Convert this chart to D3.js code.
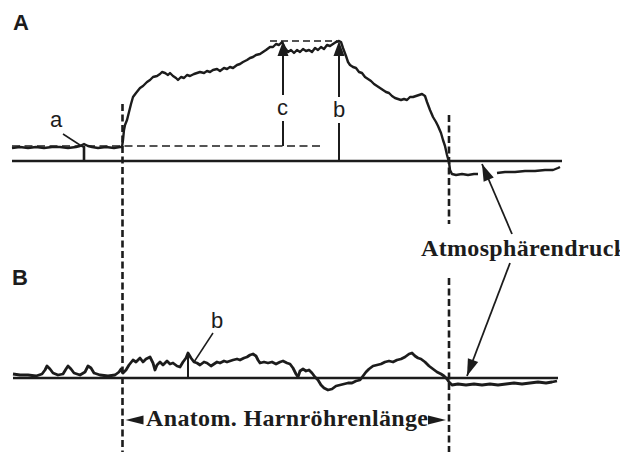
<!DOCTYPE html>
<html>
<head>
<meta charset="utf-8">
<script src="https://cdn.jsdelivr.net/npm/d3@7"></script>
<style>
  html, body { margin: 0; padding: 0; background: #fff; }
  svg { display: block; }
</style>
</head>
<body>
<svg id="chart" width="620" height="452"></svg>
<script>
// Druckprofil A: [Position, Druck] (Druck relativ zum Atmosphärendruck)
const traceA = [
  [0,13],[0.8,14],[1.6,13],[2.4,14],[3.2,13],[4.0,14],[4.8,14],[5.6,13],[6.4,14],[6.8,15],[7.2,17],[7.6,15],
  [8.0,14],[8.6,13],[9.4,14],[10.2,13],[10.8,14],[11.0,14],
  [11.1,21],[11.2,31],[11.3,36],[11.5,41],[11.7,49],[11.9,57],[12.1,64],[12.4,68],[12.8,73],[13.1,75],
  [13.5,79],[13.8,81],[14.1,84],[14.5,85],[14.8,87],[15.0,89],[15.3,88],[15.6,86],[15.8,88],[16.1,85],
  [16.4,83],[16.6,81],[16.9,84],[17.2,83],[17.5,86],[17.8,85],[18.2,87],[18.5,88],[18.8,89],[19.2,88],
  [19.5,90],[19.8,89],[20.1,91],[20.5,92],[20.8,90],[21.2,93],[21.5,92],[21.8,94],[22.1,93],[22.5,96],
  [22.8,97],[23.1,99],[23.5,101],[23.8,103],[24.1,104],[24.4,106],[24.8,107],[25.1,109],[25.4,111],
  [25.8,114],[26.1,114],[26.4,117],[26.7,116],[27.0,119],[27.3,113],[27.6,109],[27.9,111],[28.2,108],
  [28.5,111],[28.8,109],[29.1,112],[29.4,110],[29.7,111],[30.0,109],[30.3,113],[30.6,111],[30.9,114],
  [31.2,112],[31.5,116],[31.8,115],[32.1,117],[32.4,119],[32.7,120],[32.9,119],[33.1,113],[33.4,105],
  [33.6,99],[33.8,96],[34.1,94],[34.4,93],[34.7,89],[35.0,88],[35.3,84],[35.6,82],[35.9,80],[36.2,77],
  [36.5,75],[36.8,73],[37.1,71],[37.4,69],[37.7,68],[38.0,65],[38.3,63],[38.6,62],[38.9,61],[39.2,62],
  [39.5,61],[39.8,64],[40.1,64],[40.4,65],[40.7,66],[41.0,67],[41.3,65],[41.5,59],[41.8,51],[42.1,44],
  [42.4,39],[42.6,35],[42.9,28],[43.1,21],[43.3,15],[43.5,6],[43.7,-1],[43.8,-9],[44.0,-13],[44.4,-14],
  [45.0,-13],[45.6,-14],[46.2,-13],[46.6,-13]
];
const traceATail = [
  [48.5,-12],[49.3,-11],[50.3,-11],[51.3,-10],[52.3,-10],[53.3,-9],[54.1,-9],[54.6,-7],[54.8,-6]
];

// Druckprofil B
const traceB = [
  [0.1,4],[0.8,3],[1.6,3],[2.4,2],[3.0,4],[3.3,8],[3.5,12],[3.8,9],[4.1,5],[4.6,3],[5.1,4],[5.4,9],
  [5.6,12],[5.9,9],[6.2,5],[6.8,3],[7.3,6],[7.6,12],[7.9,10],[8.2,5],[8.8,3],[9.6,2],[10.3,3],[10.7,6],
  [10.9,9],[11.1,5],[11.4,8],[11.7,13],[12.1,18],[12.4,16],[12.8,20],[13.1,16],[13.4,19],[13.8,21],
  [14.1,15],[14.3,8],[14.5,13],[14.8,16],[15.1,13],[15.5,17],[15.8,14],[16.1,15],[16.5,12],[16.8,11],
  [17.1,16],[17.4,20],[17.6,25],[17.9,20],[18.2,16],[18.5,15],[18.8,13],[19.2,16],[19.5,15],[19.9,12],
  [20.2,14],[20.5,16],[20.8,15],[21.2,17],[21.5,16],[21.8,17],[22.1,18],[22.5,19],[22.8,18],[23.2,20],
  [23.5,21],[23.8,23],[24.1,24],[24.4,22],[24.6,18],[24.8,15],[25.2,16],[25.6,15],[26.0,16],[26.4,14],
  [26.8,16],[27.1,17],[27.5,15],[27.8,14],[28.1,10],[28.4,4],[28.6,1],[28.8,7],[29.1,9],[29.4,7],
  [29.7,8],[30.0,5],[30.3,1],[30.6,-2],[30.9,-7],[31.2,-10],[31.6,-12],[32.0,-11],[32.4,-8],[32.8,-7],
  [33.2,-6],[33.6,-5],[34.0,-5],[34.4,-3],[34.8,-2],[35.1,2],[35.4,6],[35.7,9],[36.1,12],[36.5,13],
  [36.9,14],[37.3,16],[37.7,17],[38.1,16],[38.5,18],[38.9,19],[39.3,21],[39.7,24],[40.0,25],[40.3,22],
  [40.6,20],[40.9,19],[41.3,16],[41.7,12],[42.1,9],[42.5,6],[42.9,4],[43.2,2],[43.5,-1],[43.7,-4],
  [44.0,-7],[44.6,-6],[45.4,-7],[46.2,-6],[47.0,-7],[47.8,-6],[48.6,-7],[49.4,-6],[50.2,-5],[51.0,-6],
  [51.8,-5],[52.6,-4],[53.4,-5],[54.0,-4],[54.5,-3]
];

// Markierungen
const posStart = 11.05;      // Beginn der Harnröhre
const posEnd = 43.7;         // Ende der Harnröhre
const posA = 7.2, posC = 27.1, posB = 32.7, posBB = 17.6;
const restPressure = 15;     // Ruhedruck (gestrichelt)
const maxPressure = 120;
const labelAtmo = "Atmosphärendruck";
const labelLength = "Anatom. Harnröhrenlänge";

const ink = "#1c1c1c";
const svg = d3.select("#chart");

const x = d3.scaleLinear().domain([0, 55]).range([12, 562]);
const yA = d3.scaleLinear().domain([0, 120]).range([161, 41]);
const yB = d3.scaleLinear().domain([0, 120]).range([378, 258]);

// Pfeilspitze
function arrowHead(tx, ty, dir, len, half) {
  // dir: Winkel in Grad, Richtung in die die Spitze zeigt
  const a = dir * Math.PI / 180;
  const bx = tx - Math.cos(a) * len, by = ty - Math.sin(a) * len;
  const px = -Math.sin(a) * half, py = Math.cos(a) * half;
  svg.append("path")
    .attr("d", `M${tx},${ty}L${bx + px},${by + py}L${bx - px},${by - py}Z`)
    .attr("fill", ink);
}

function vline(xx, y1, y2, w, dash) {
  svg.append("line")
    .attr("x1", xx).attr("x2", xx).attr("y1", y1).attr("y2", y2)
    .attr("stroke", ink).attr("stroke-width", w)
    .attr("stroke-dasharray", dash || null);
}
function hline(x1, x2, yy, w, dash) {
  svg.append("line")
    .attr("x1", x1).attr("x2", x2).attr("y1", yy).attr("y2", yy)
    .attr("stroke", ink).attr("stroke-width", w)
    .attr("stroke-dasharray", dash || null);
}

// Nulllinien
hline(x(0), x(55), yA(0), 2.6);
hline(x(0.1), x(54.6), yB(0), 2.6);

// Ruhedruck und Maximaldruck
hline(x(0), x(30.8), yA(restPressure), 1.4, "8,4.5");
hline(x(25.8), x(32.5), yA(maxPressure), 1.4, "7,4");

// senkrechte Begrenzungen
vline(x(posStart), 104, 452, 2.6, "7,3.5");
vline(x(posEnd), 115, 224, 2.6, "7,3.5");
vline(x(posEnd), 278, 452, 2.6, "7,3.5");

// Kurven
const lineA = d3.line().x(d => x(d[0])).y(d => yA(d[1]));
const lineB = d3.line().x(d => x(d[0])).y(d => yB(d[1]));
[traceA, traceATail].forEach(t => {
  svg.append("path").attr("d", lineA(t))
    .attr("fill", "none").attr("stroke", ink)
    .attr("stroke-width", 2.4).attr("stroke-linejoin", "round");
});
svg.append("path").attr("d", lineB(traceB))
  .attr("fill", "none").attr("stroke", ink)
  .attr("stroke-width", 2.8).attr("stroke-linejoin", "round");

// Marke a
vline(x(posA), yA(restPressure), yA(0), 2.6);
svg.append("line").attr("x1", 63).attr("y1", 134).attr("x2", x(posA) - 1).attr("y2", yA(restPressure) + 1)
  .attr("stroke", ink).attr("stroke-width", 1.5);

// Pfeile c und b
const sans = "'Liberation Sans', Arial, sans-serif";
vline(x(posC), yA(restPressure), 121, 2);
vline(x(posC), 95, yA(maxPressure) + 12, 2);
arrowHead(x(posC), yA(maxPressure), -90, 15, 5.5);
vline(x(posB), yA(0), 123, 2);
vline(x(posB), 97, yA(maxPressure) + 12, 2);
arrowHead(x(posB), yA(maxPressure), -90, 15, 5.5);

// Marke b in B
vline(x(posBB), yB(25), yB(0), 2);
svg.append("line").attr("x1", 213).attr("y1", 333).attr("x2", x(posBB) + 6).attr("y2", yB(16))
  .attr("stroke", ink).attr("stroke-width", 1.5);

const letters = [
  { t: "A", x: 13, y: 30, s: 22, w: "bold" },
  { t: "B", x: 12, y: 285, s: 22, w: "bold" },
  { t: "a", x: 50, y: 127, s: 22, w: "normal" },
  { t: "c", x: x(posC) - 6, y: 115, s: 22, w: "normal" },
  { t: "b", x: x(posB) - 6, y: 117, s: 22, w: "normal" },
  { t: "b", x: 211, y: 328, s: 22, w: "normal" }
];
svg.selectAll("text.lbl").data(letters).enter().append("text")
  .attr("class", "lbl")
  .attr("x", d => d.x).attr("y", d => d.y)
  .attr("font-family", sans).attr("font-size", d => d.s).attr("font-weight", d => d.w)
  .attr("fill", ink).text(d => d.t);

// Atmosphärendruck (rechts vom Bildrand angeschnitten wie in der Vorlage)
const serif = "'Liberation Serif', 'Times New Roman', serif";
svg.append("text")
  .attr("x", 421).attr("y", 256)
  .attr("font-family", serif).attr("font-size", 24).attr("font-weight", "bold")
  .attr("textLength", 206).attr("lengthAdjust", "spacing")
  .attr("fill", ink).text(labelAtmo);

const tipUp = [x(47.0), yA(-3)];
const tipDown = [x(45.5), yB(2)];
function pointer(fx, fy, tip) {
  const ang = Math.atan2(tip[1] - fy, tip[0] - fx) * 180 / Math.PI;
  svg.append("line").attr("x1", fx).attr("y1", fy).attr("x2", tip[0]).attr("y2", tip[1])
    .attr("stroke", ink).attr("stroke-width", 1.8);
  arrowHead(tip[0], tip[1], ang, 17, 5.5);
}
pointer(512, 234, tipUp);
pointer(510, 263, tipDown);

// Harnröhrenlänge
svg.append("text")
  .attr("x", 146).attr("y", 426)
  .attr("font-family", serif).attr("font-size", 24).attr("font-weight", "bold")
  .attr("textLength", 282).attr("lengthAdjust", "spacing")
  .attr("fill", ink).text(labelLength);
arrowHead(x(posStart) + 3, 420, 180, 18, 4.5);
arrowHead(x(posEnd) - 3, 420, 0, 18, 4.5);
</script>
</body>
</html>
